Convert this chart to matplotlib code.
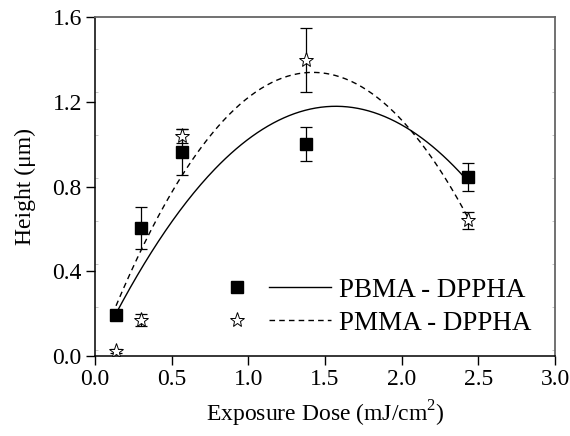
import numpy as np
import matplotlib
matplotlib.use("Agg")
import matplotlib.pyplot as plt
from matplotlib.legend_handler import HandlerTuple
from matplotlib.ticker import FixedLocator

plt.rcParams['font.family'] = ['Liberation Serif', 'DejaVu Serif']
plt.rcParams['mathtext.fontset'] = 'custom'
plt.rcParams['mathtext.rm'] = 'Liberation Serif'

# exposure dose (mJ/cm^2) and feature height (um)
dose = [0.137, 0.298, 0.569, 1.376, 2.43]
h_pbma = [0.194, 0.606, 0.965, 1.001, 0.847]
err_pbma = [0.0, 0.10, 0.11, 0.08, 0.067]
h_pmma = [0.024, 0.17, 1.04, 1.398, 0.642]
err_pmma = [0.01, 0.03, 0.035, 0.15, 0.04]

labels = ['PBMA - DPPHA', 'PMMA - DPPHA']

# second order polynomial fit coefficients (a*x^2 + b*x + c)
fit_pbma = [-0.477, 1.498, 0.004]
fit_pmma = [-0.670, 1.903, -0.011]

xfit = np.linspace(min(dose), max(dose), 200)

fig = plt.figure(figsize=(5.70, 4.36), dpi=100)
ax = fig.add_axes([0.1667, 0.1835, 0.807, 0.7765])

ax.errorbar(dose, h_pbma, yerr=err_pbma, fmt='none', ecolor='black',
            elinewidth=0.9, capsize=4, capthick=0.9)
ax.errorbar(dose, h_pmma, yerr=err_pmma, fmt='none', ecolor='black',
            elinewidth=0.9, capsize=4, capthick=0.9)
m1, = ax.plot(dose, h_pbma, 's', color='black', ms=8, zorder=3)
m2, = ax.plot(dose, h_pmma, '*', mfc='white', mec='black', mew=0.7, ms=11, zorder=3)
l1, = ax.plot(xfit, np.polyval(fit_pbma, xfit), '-', color='black', lw=1.0)
l2, = ax.plot(xfit, np.polyval(fit_pmma, xfit), color='black', lw=1.0,
              dashes=(4, 3))

ax.set_xlim(0, 3.0)
ax.set_ylim(0, 1.6)
ax.set_xticks(np.arange(0, 3.01, 0.5))
ax.set_yticks(np.arange(0, 1.61, 0.4))
ax.set_xticklabels(['%.1f' % v for v in np.arange(0, 3.01, 0.5)])
ax.set_yticklabels(['%.1f' % v for v in np.arange(0, 1.61, 0.4)])
ax.tick_params(axis='both', which='major', direction='out', length=6.5,
               width=1.0, labelsize=17, pad=3)
ax.tick_params(axis='y', which='major', right=False)

# faint inner ticks on both vertical spines
ax.yaxis.set_minor_locator(FixedLocator(0.028 + 0.203 * np.arange(8)))
ax.tick_params(axis='y', which='minor', direction='in', left=True, right=True,
               length=2, width=0.6, color='#bbbbbb')

for side in ['top', 'right']:
    ax.spines[side].set_color('#666666')
    ax.spines[side].set_linewidth(1.3)
for side in ['left', 'bottom']:
    ax.spines[side].set_color('black')
    ax.spines[side].set_linewidth(1.1)

ax.set_xlabel('Exposure Dose (mJ/cm$^2$)', fontsize=17, labelpad=6)
ax.set_ylabel('Height (\u03bcm)', fontsize=17, labelpad=12)

ax.legend([(m1, l1), (m2, l2)], labels,
          handler_map={tuple: HandlerTuple(ndivide=None, pad=0.05)},
          loc='lower right', bbox_to_anchor=(0.99, 0.004), frameon=False,
          fontsize=19.5, handlelength=4.6, handletextpad=0.3,
          labelspacing=0.3, borderpad=0.2)

fig.savefig('out.png', dpi=100)
